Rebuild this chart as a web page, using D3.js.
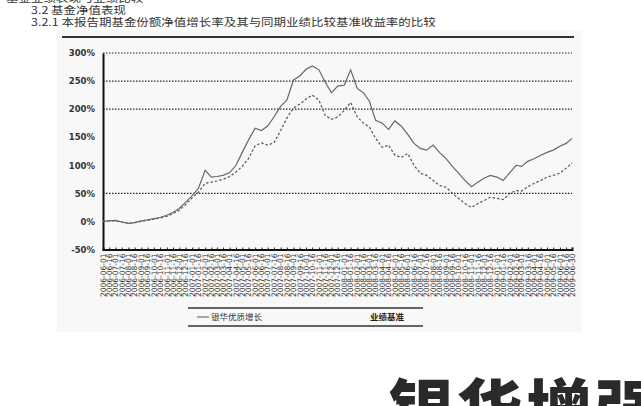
<!DOCTYPE html>
<html>
<head>
<meta charset="utf-8">
<script src="https://cdn.jsdelivr.net/npm/d3@7.9.0/dist/d3.min.js"></script>
<style>
  body { margin: 0; background: #fff; }
  svg { display: block; font-family: "Noto Sans CJK SC", "DejaVu Sans", sans-serif; }
</style>
</head>
<body>
<svg id="chart" width="641" height="406"></svg>
<script>
// semi-monthly sample dates
const dates = [
  '2006-06-01','2006-06-16','2006-07-01','2006-07-16','2006-08-01','2006-08-16','2006-09-01','2006-09-16',
  '2006-10-01','2006-10-16','2006-11-01','2006-11-16','2006-12-01','2006-12-16','2007-01-01','2007-01-16',
  '2007-02-01','2007-02-16','2007-03-01','2007-03-16','2007-04-01','2007-04-16','2007-05-01','2007-05-16',
  '2007-06-01','2007-06-16','2007-07-01','2007-07-16','2007-08-01','2007-08-16','2007-09-01','2007-09-16',
  '2007-10-01','2007-10-16','2007-11-01','2007-11-16','2007-12-01','2007-12-16','2008-01-01','2008-01-16',
  '2008-02-01','2008-02-16','2008-03-01','2008-03-16','2008-04-01','2008-04-16','2008-05-01','2008-05-16',
  '2008-06-01','2008-06-16','2008-07-01','2008-07-16','2008-08-01','2008-08-16','2008-09-01','2008-09-16',
  '2008-10-01','2008-10-16','2008-11-01','2008-11-16','2008-12-01','2008-12-16','2009-01-01','2009-01-16',
  '2009-02-01','2009-02-16','2009-03-01','2009-03-16','2009-04-01','2009-04-16','2009-05-01','2009-05-16',
  '2009-06-01','2009-06-16','2009-06-30'
];

// cumulative growth, %
const fundValues = [
  0, 1, 2, -1, -3.5, -2, 1, 3, 5, 7,
  11, 16, 23, 34, 46, 59, 91, 79, 80, 82,
  87, 100, 123, 145, 166, 162, 170, 186, 205, 216,
  252, 259, 271, 277, 270, 248, 229, 241, 243, 270,
  237, 229, 214, 180, 175, 164, 179, 170, 155, 139,
  130, 127, 136, 123, 112, 98, 86, 73, 62, 70,
  77, 82, 79, 73, 87, 100, 98, 107, 112, 118,
  123, 127, 134, 139, 148
];

const benchValues = [
  0, 1, 1, -1, -3, -2, 0, 2, 4, 6,
  9, 14, 20, 30, 42, 52, 68, 70, 72, 75,
  80, 88, 98, 112, 135, 140, 136, 140, 162, 184,
  202, 209, 218, 225, 216, 189, 182, 186, 198, 212,
  186, 175, 168, 148, 132, 136, 118, 114, 121, 100,
  86, 82, 73, 64, 61, 50, 41, 32, 25, 32,
  37, 43, 41, 39, 50, 55, 54, 62, 68, 73,
  79, 82, 86, 95, 104
];

const yTicks = [-50, 0, 50, 100, 150, 200, 250, 300];
const yTickLabels = ['-50%', '0%', '50%', '100%', '150%', '200%', '250%', '300%'];
const gridValues = [50, 200, 250, 300];
const legendLabels = ['银华优质增长', '业绩基准'];

const parse = d3.timeParse('%Y-%m-%d');
const fmt = d3.timeFormat('%Y-%m-%d');
const dateObjs = dates.map(parse);

const svg = d3.select('#chart');

// scanned page tint
svg.append('rect')
  .attr('x', 57).attr('y', 30).attr('width', 525).attr('height', 302)
  .attr('fill', '#f8f8f8');

// heading text (squashed a little, like the scan)
const head = svg.append('g').attr('fill', '#333').attr('font-size', 12.5);
head.append('text').attr('transform', 'translate(6,2) scale(1,0.8)')
  .text('基金业绩表现与业绩比较');
head.append('text').attr('transform', 'translate(31,14) scale(1,0.8)')
  .text('3.2 基金净值表现');
head.append('text').attr('transform', 'translate(31,25.5) scale(1,0.8)')
  .text('3.2.1 本报告期基金份额净值增长率及其与同期业绩比较基准收益率的比较');

svg.append('line')
  .attr('x1', 62).attr('x2', 574).attr('y1', 37).attr('y2', 37)
  .attr('stroke', '#333').attr('stroke-width', 2);

const x = d3.scaleTime()
  .domain([parse('2006-06-01'), parse('2009-06-30')])
  .range([103, 572]);

const y = d3.scaleLinear()
  .domain([-50, 300])
  .range([249.5, 53]);

// gridlines
svg.append('g')
  .selectAll('line')
  .data(gridValues)
  .join('line')
  .attr('x1', 103).attr('x2', 572)
  .attr('y1', (d) => y(d)).attr('y2', (d) => y(d))
  .attr('stroke', '#222').attr('stroke-width', 1.2)
  .attr('stroke-dasharray', '1.5,1.5');

// y axis
const yAxis = svg.append('g')
  .attr('transform', 'translate(103,0)')
  .call(d3.axisLeft(y).tickValues(yTicks).tickSize(0).tickPadding(8)
    .tickFormat((d, i) => yTickLabels[i]));
yAxis.select('.domain').attr('stroke', '#111').attr('stroke-width', 2);
yAxis.selectAll('text').attr('font-size', 8.5).attr('fill', '#333')
  .attr('font-weight', 'bold')
  .attr('font-family', '"DejaVu Sans", sans-serif');

// x axis
const xAxis = svg.append('g')
  .attr('transform', 'translate(0,249.5)')
  .call(d3.axisBottom(x).tickValues(dateObjs).tickSize(-2).tickPadding(3)
    .tickFormat(fmt));
xAxis.select('.domain').attr('stroke', '#111').attr('stroke-width', 2);
xAxis.selectAll('.tick line').attr('stroke', '#222');
xAxis.selectAll('text')
  .attr('font-size', 7.5)
  .attr('fill', '#333')
  .attr('font-family', '"DejaVu Sans", sans-serif')
  .attr('text-anchor', 'end')
  .attr('dy', '0.3em')
  .attr('transform', 'translate(0,4) rotate(-90)')
  .attr('y', 0).attr('x', 0);

// series
const line = d3.line()
  .x((d, i) => x(dateObjs[i]))
  .y((d) => y(d));

svg.append('path')
  .datum(benchValues)
  .attr('d', line)
  .attr('fill', 'none')
  .attr('stroke', '#555')
  .attr('stroke-width', 1.2)
  .attr('stroke-dasharray', '2.5,2');

svg.append('path')
  .datum(fundValues)
  .attr('d', line)
  .attr('fill', 'none')
  .attr('stroke', '#666')
  .attr('stroke-width', 1.2);

// legend
const legend = svg.append('g');
legend.append('line').attr('x1', 188).attr('x2', 423).attr('y1', 308).attr('y2', 308)
  .attr('stroke', '#333').attr('stroke-width', 1.5);
legend.append('line').attr('x1', 188).attr('x2', 423).attr('y1', 326).attr('y2', 326)
  .attr('stroke', '#333').attr('stroke-width', 1.5);
legend.append('line').attr('x1', 197).attr('x2', 209).attr('y1', 317).attr('y2', 317)
  .attr('stroke', '#555').attr('stroke-width', 1);
legend.append('text').attr('x', 211).attr('y', 320).attr('font-size', 8.5).attr('fill', '#333')
  .text(legendLabels[0]);
legend.append('text').attr('x', 370).attr('y', 320).attr('font-size', 8.5).attr('fill', '#222')
  .attr('font-weight', 'bold').text(legendLabels[1]);

// big heading cut at the bottom of the page
svg.append('text')
  .attr('x', 388).attr('y', 434)
  .attr('font-size', 66).attr('font-weight', 900).attr('fill', '#2a2a2a')
  .attr('letter-spacing', 3)
  .text('银华增强');
</script>
</body>
</html>
